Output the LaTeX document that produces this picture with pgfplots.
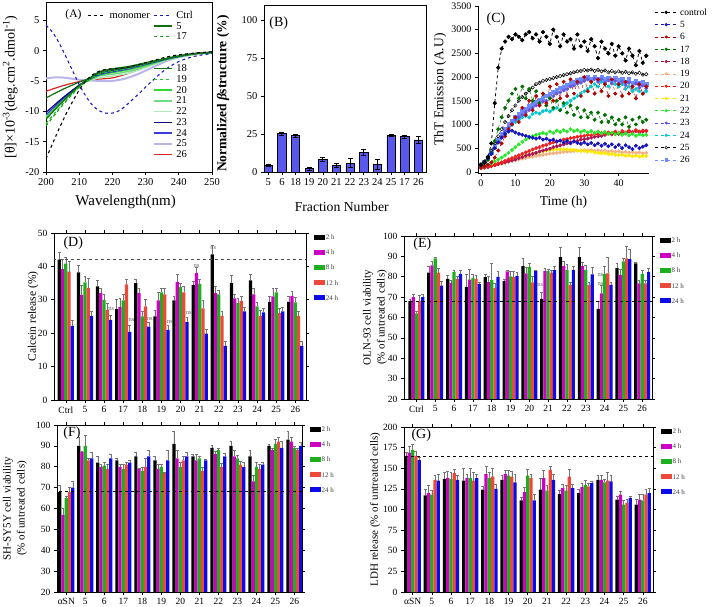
\documentclass[border=0pt]{standalone}
\usepackage{fontspec}
\setmainfont{Liberation Serif}
\usepackage{pgfplots}
\usepackage{pgfplotstable}
\pgfplotsset{compat=1.18}

\definecolor{bbar}{RGB}{88,88,238}
\definecolor{cctrl}{RGB}{30,30,190}
\definecolor{g5}{RGB}{20,110,20}
\definecolor{g17}{RGB}{30,160,30}
\definecolor{g18}{RGB}{10,120,10}
\definecolor{g19}{RGB}{40,200,40}
\definecolor{g20}{RGB}{50,215,50}
\definecolor{g21}{RGB}{110,220,130}
\definecolor{g22}{RGB}{170,235,185}
\definecolor{b23}{RGB}{10,10,130}
\definecolor{b24}{RGB}{60,60,220}
\definecolor{l25}{RGB}{185,180,235}
\definecolor{r26}{RGB}{220,35,35}
% panel C colours
\definecolor{k5}{RGB}{20,20,190}
\definecolor{k6}{RGB}{180,0,0}
\definecolor{k17}{RGB}{0,110,0}
\definecolor{k18}{RGB}{170,20,90}
\definecolor{k19}{RGB}{245,175,130}
\definecolor{k20}{RGB}{240,30,30}
\definecolor{k21}{RGB}{255,230,0}
\definecolor{k22}{RGB}{40,230,40}
\definecolor{k23}{RGB}{100,90,220}
\definecolor{k24}{RGB}{0,200,210}
\definecolor{k26}{RGB}{110,140,255}
% bar colours
\definecolor{h2c}{RGB}{0,0,0}
\definecolor{h4c}{RGB}{205,0,195}
\definecolor{h8c}{RGB}{30,175,30}
\definecolor{h12c}{RGB}{238,72,58}
\definecolor{h24c}{RGB}{10,10,235}

\pgfplotstableread{
x y e
0 4.5 0.7
1 25.3 1.0
2 24.0 1.0
3 2.2 1.0
4 8.2 1.2
5 4.2 1.3
6 5.7 3.0
7 12.8 1.8
8 5.0 3.2
9 24.2 0.6
10 23.2 1.2
11 21.2 2.5
}\tabB

\pgfplotstableread{
t ctl s5 s6 s17 s18 s19 s20 s21 s22 s23 s24 s25 s26
0 150 150 100 150 80 80 80 80 100 150 150 150 150
1 200 200 120 180 90 95 95 90 120 200 210 220 210
2 300 280 150 250 100 110 110 105 150 280 290 320 300
3 600 380 200 400 120 125 130 120 180 380 400 450 410
4 1450 500 300 650 140 140 150 140 220 500 530 600 540
5 2200 620 450 900 160 160 180 160 260 620 650 750 670
6 2600 720 600 1150 180 175 200 180 300 740 760 900 790
7 2750 800 750 1350 200 195 230 200 350 850 850 1050 900
8 2850 850 900 1500 220 210 260 225 400 940 920 1180 1000
9 2800 870 1000 1650 240 230 290 250 460 1020 990 1300 1080
10 2900 830 1150 1750 260 245 320 275 520 1100 1050 1400 1150
11 2850 800 1050 1550 290 260 350 300 580 1150 1100 1500 1220
12 2780 780 1350 1800 310 280 380 320 630 1200 1150 1580 1280
13 2900 760 1200 1550 340 290 410 345 680 1260 1180 1650 1330
14 2950 740 1500 1750 360 310 440 365 720 1300 1150 1720 1380
15 2820 720 1300 1500 380 320 470 385 750 1350 1220 1780 1430
16 2900 700 1600 1700 400 335 500 400 780 1400 1250 1850 1480
17 2750 720 1400 1450 430 345 520 420 800 1430 1230 1880 1520
18 2950 680 1650 1650 450 360 550 435 820 1480 1280 1920 1560
19 2850 700 1450 1400 470 370 570 450 800 1500 1300 1940 1600
20 2700 660 1800 1550 490 385 600 460 850 1560 1270 1960 1650
21 3000 680 1500 1350 520 390 620 470 820 1600 1320 1980 1690
22 2850 640 1850 1500 540 400 640 475 870 1650 1350 2000 1730
23 2650 660 1550 1300 560 410 660 480 840 1680 1300 2020 1770
24 2900 620 1900 1450 580 420 680 470 880 1720 1400 2040 1800
25 2750 650 1600 1250 600 425 690 475 850 1750 1450 2060 1840
26 2800 600 1950 1400 620 430 710 460 900 1800 1500 2080 1870
27 2600 640 1650 1200 640 440 720 465 860 1820 1550 2100 1900
28 2900 610 1900 1350 650 445 740 450 880 1860 1600 2120 1930
29 2650 590 1600 1150 680 450 750 440 840 1880 1650 2130 1950
30 2750 620 2000 1300 690 455 760 445 870 1920 1700 2150 1980
31 2550 580 1700 1150 700 450 780 425 830 1950 1750 2140 2000
32 2800 610 1900 1250 720 460 770 430 860 1900 1800 2160 1960
33 2650 560 1650 1100 740 445 800 410 820 1960 1850 2130 2010
34 2400 600 1950 1250 750 455 790 400 850 1900 1800 2150 1970
35 2750 550 1700 1050 760 440 820 390 810 1950 1900 2120 2000
36 2600 590 1850 1200 780 450 800 395 840 1880 1850 2140 1950
37 2500 540 1600 1050 800 430 830 370 800 1930 1800 2100 1990
38 2700 580 1950 1150 790 440 810 380 830 1860 1900 2130 1940
39 2450 520 1650 1000 820 420 850 360 790 1920 1850 2100 1980
40 2650 570 1850 1100 800 435 820 350 820 1850 1800 2120 1930
41 2500 500 1600 1000 830 410 860 360 780 1900 1850 2090 1960
42 2350 560 1900 1150 810 420 830 340 810 1830 1750 2110 1900
43 2600 520 1650 950 850 400 870 345 770 1880 1800 2080 1950
44 2450 480 1800 1100 820 415 840 330 800 1800 1700 2100 1880
45 2250 550 1550 1000 860 395 880 340 760 1860 1750 2070 1920
46 2550 500 1850 1150 830 410 850 320 790 1780 1700 2090 1870
47 2300 530 1650 1050 850 390 870 335 770 1820 1650 2050 1900
48 2450 560 1800 1100 870 400 860 330 780 1760 1700 2060 1850
}\tht

\pgfplotstableread{
x h2 e2 h4 e4 h8 e8 h12 e12 h24 e24
0 42.0 2.2 39.2 3.0 40.8 1.8 38.4 3.0 22.2 1.6
1 38.2 2.0 31.5 3.0 35.2 2.0 33.6 3.0 25.2 1.4
2 34.0 1.8 32.0 1.6 30.0 1.6 27.0 2.0 24.0 1.4
3 27.2 3.0 27.8 2.6 29.8 2.0 34.6 1.6 20.4 2.0
4 35.0 1.2 32.0 1.6 25.0 1.5 28.0 2.2 22.0 1.2
5 25.0 2.0 29.8 2.5 32.2 1.4 31.6 2.0 21.0 1.5
6 29.8 1.2 35.4 2.2 33.8 1.2 32.2 2.0 23.4 1.4
7 34.4 1.3 38.0 1.8 34.8 1.3 27.4 2.5 19.9 1.2
8 43.6 2.8 32.0 2.2 31.6 1.2 25.2 1.4 16.2 1.4
9 35.0 2.4 30.4 1.2 29.0 1.4 29.6 1.4 26.5 1.2
10 35.8 1.8 31.6 1.8 28.0 1.3 25.2 1.6 26.2 1.2
11 29.4 1.6 31.0 2.6 32.2 1.4 26.0 1.4 26.5 1.2
12 29.4 1.6 31.2 1.4 29.2 1.6 25.2 1.4 16.2 1.4
}\tabD

\pgfplotstableread{
x h2 e2 h4 e4 h8 e8 h12 e12 h24 e24
0 68.0 1.0 70.0 1.5 62.0 1.0 68.0 3.0 70.0 1.2
1 82.0 3.0 85.6 2.0 89.0 0.5 82.0 2.0 75.6 2.0
2 79.0 1.6 77.0 1.5 82.4 0.6 78.8 1.6 81.4 2.0
3 75.0 6.0 78.6 5.0 79.4 1.6 79.0 1.6 76.4 1.0
4 79.8 1.6 77.4 3.0 78.4 8.0 74.4 2.5 80.0 2.5
5 77.8 1.0 82.6 0.6 80.2 2.5 80.0 2.5 80.4 2.0
6 85.2 4.0 81.6 3.0 84.8 2.0 77.2 3.0 82.8 0.6
7 69.2 3.0 82.8 1.6 82.8 1.0 82.0 1.4 83.2 2.0
8 89.6 5.0 85.2 2.5 83.2 3.0 76.0 1.2 83.2 2.0
9 89.6 5.0 85.2 2.0 83.2 2.5 76.0 1.2 81.2 3.5
10 64.2 4.0 71.8 4.0 81.4 4.0 81.6 8.0 76.0 1.2
11 84.2 2.5 80.8 3.0 87.6 1.5 89.0 6.0 88.6 5.0
12 86.6 0.5 76.8 1.4 81.4 2.0 76.8 1.5 82.4 2.0
}\tabE

\pgfplotstableread{
x h2 e2 h4 e4 h8 e8 h12 e12 h24 e24
0 68 3 57 3 65 1 68 2 70 3
1 90 4 87 0.5 90 5 83 1 84 3
2 82 3 80 1 80.5 1.5 79 2 84 2
3 83 1 80 1 79 2 81 1 82 1
4 85 2 79 0.5 78 2 80 4 85 3
5 83 2 79 2 80 1 77 0.5 83 5
6 91 6 84 4 80 2 83 2 85 2
7 85 1 83 3 84 1 78 2 83 0.5
8 89 1.5 86 1.5 88 1 80 1.5 85 1.5
9 90 2 85 3 84 1.5 81 1.5 80 2
10 85 3 73 3 80 2 79 2 81 1
11 90 1 88 1 91 2 92 2 89 3
12 93 4 92 2 89 1 88 1 90 1.5
}\tabF

\pgfplotstableread{
x h2 e2 h4 e4 h8 e8 h12 e12 h24 e24
0 165 5 169 8 172 7 165 6 160 3
1 117 8 120 10 118 5 136 6 135 8
2 137 8 138 8 137 8 144 5 136 6
3 135 15 138 5 138 12 135 10 138 5
4 124 4 143 10 138 7 140 10 125 6
5 136 5 143 4 141 6 140 6 133 10
6 111 4 121 6 141 8 138 5 111 7
7 124 14 138 10 123 6 148 5 136 7
8 119 4 126 5 123 6 140 9 126 5
9 120 5 127 5 130 6 128 4 132 2
10 136 6 136 6 133 4 135 10 134 8
11 112 4 118 4 106 5 108 5 114 2
12 106 6 112 6 111 7 118 6 120 6
}\tabG

\pgfplotsset{
  every axis/.append style={
    scale only axis, anchor=south west,
    /pgf/number format/assume math mode=true,
    /pgf/number format/1000 sep={},
    scaled ticks=false,
    axis line style={line width=0.6pt},
    tick style={line width=0.6pt, black},
    major tick length=3pt,
  },
  sC/.style={dashed, line width=0.5pt, mark=*, mark size=1.7pt, mark options={solid}},
  barleg/.style={
    legend image code/.code={\fill[##1] (0pt,-2.6pt) rectangle (11pt,2.6pt);},
    legend style={draw=none, fill=none, at={(1.03,1.0)}, anchor=north west,
      font=\fontsize{7}{8}\selectfont, text=black!75, inner sep=0pt,
      nodes={inner sep=1pt, text height=5.5pt, text depth=1pt},
      row sep=6.6pt},
    legend cell align=left,
  },
  barax/.style={
    xmin=#1, xtick={0,...,12},
    tick align=outside,
    tick label style={font=\fontsize{9.5}{10}\selectfont},
    label style={font=\fontsize{11}{12.5}\selectfont},
    barleg,
  },
  eb/.style={error bars/.cd, y dir=plus, y explicit,
    error bar style={black!55, line width=0.5pt},
    error mark options={rotate=90, mark size=1.4pt, black!55, line width=0.5pt}},
}

\newcommand{\bars}[1]{%
  \addplot[ybar, bar width=0.17, fill=h2c, draw=none, eb] table[x expr=\thisrow{x}-0.34, y=h2, y error=e2]{#1};
  \addplot[ybar, bar width=0.17, fill=h4c, draw=none, eb] table[x expr=\thisrow{x}-0.17, y=h4, y error=e4]{#1};
  \addplot[ybar, bar width=0.17, fill=h8c, draw=none, eb] table[x=x, y=h8, y error=e8]{#1};
  \addplot[ybar, bar width=0.17, fill=h12c, draw=none, eb] table[x expr=\thisrow{x}+0.17, y=h12, y error=e12]{#1};
  \addplot[ybar, bar width=0.17, fill=h24c, draw=none, eb] table[x expr=\thisrow{x}+0.34, y=h24, y error=e24]{#1};
  \legend{2 h, 4 h, 8 h, 12 h, 24 h}%
}

\begin{document}
\begin{tikzpicture}[x=1pt,y=1pt]
\useasboundingbox (0pt,0pt) rectangle (713pt,606pt);

%%%%%%%%%%%%%%%% (A)
\begin{axis}[at={(46pt,434pt)}, width=166pt, height=170pt,
  xmin=200, xmax=250, ymin=-20, ymax=8,
  xtick={200,210,...,250}, ytick={-20,-15,...,5},
  tick pos=left, tick align=outside,
  tick label style={font=\fontsize{10.5}{12}\selectfont},
  xlabel={Wavelength(nm)},
  xlabel style={font=\fontsize{15}{16}\selectfont, at={(axis description cs:0.48,-0.175)}, anchor=center},
  ylabel={[θ]×10\textsuperscript{-3}(deg.cm\textsuperscript{2}.dmol\textsuperscript{-1})},
  ylabel style={font=\fontsize{14}{15}\selectfont, at={(axis description cs:-0.215,0.5)}, anchor=center},
  legend columns=2,
  legend image code/.code={\draw[#1] (0pt,0pt) -- (18pt,0pt);},
  legend style={draw=none, fill=none, at={(0.247,0.955)}, anchor=north west,
    font=\fontsize{10.5}{11}\selectfont, inner sep=0pt,
    nodes={inner sep=1.3pt, text height=7.2pt, text depth=0.9pt},
    row sep=0pt, column sep=2pt},
  legend cell align=left,
]
\addplot[forget plot, l25, line width=2pt, smooth] coordinates {(200,-4.6)(203,-4.4)(206,-4.5)(210,-4.8)(213,-4.9)(216,-5)(220,-5)(224,-4.6)(228,-3.8)(232,-2.8)(236,-1.8)(240,-1.1)(245,-0.6)(250,-0.3)};
\addplot[forget plot, r26, line width=1.2pt, smooth] coordinates {(200,-6.7)(205,-5.8)(210,-5.1)(213,-4.8)(216,-4.7)(220,-4.5)(224,-3.9)(228,-3.1)(232,-2.3)(236,-1.5)(240,-1)(245,-0.5)(250,-0.3)};
\addplot[forget plot, g22, line width=1.4pt, smooth] coordinates {(200,-10.8)(205,-8)(210,-5.7)(213,-5)(216,-4.5)(220,-4.2)(225,-3.7)(230,-2.8)(235,-1.8)(240,-1.1)(245,-0.6)(250,-0.3)};
\addplot[forget plot, g21, line width=1.4pt, smooth] coordinates {(200,-11)(205,-8.2)(210,-5.8)(213,-4.9)(216,-4.2)(220,-3.9)(225,-3.4)(230,-2.6)(235,-1.7)(240,-1)(245,-0.5)(250,-0.3)};
\addplot[forget plot, g20, line width=1.8pt, smooth] coordinates {(200,-11.2)(205,-8.3)(210,-5.8)(213,-4.8)(216,-4)(220,-3.6)(225,-3.1)(230,-2.4)(235,-1.6)(240,-1)(245,-0.5)(250,-0.3)};
\addplot[forget plot, b24, line width=1.2pt, smooth] coordinates {(200,-10.6)(205,-8)(210,-5.8)(213,-4.8)(216,-4)(220,-3.5)(225,-3)(230,-2.3)(235,-1.6)(240,-1)(245,-0.5)(250,-0.3)};
\addplot[forget plot, b23, line width=1.2pt, smooth] coordinates {(200,-10.2)(205,-7.8)(210,-5.7)(213,-4.7)(216,-3.8)(220,-3.3)(225,-2.8)(230,-2.2)(235,-1.5)(240,-0.9)(245,-0.5)(250,-0.3)};
\addplot[forget plot, g19, dashed, line width=1.2pt, smooth] coordinates {(200,-12)(205,-8.8)(210,-6)(213,-4.8)(216,-3.9)(220,-3.4)(225,-2.9)(230,-2.2)(235,-1.5)(240,-0.9)(245,-0.5)(250,-0.3)};
\addplot[forget plot, g18, line width=1.2pt, smooth] coordinates {(200,-11.3)(205,-8.4)(210,-5.8)(213,-4.6)(216,-3.5)(220,-3)(225,-2.6)(230,-2)(235,-1.4)(240,-0.9)(245,-0.5)(250,-0.3)};
\addplot[forget plot, g17, dashed, line width=1.2pt, smooth] coordinates {(200,-12.4)(205,-9)(210,-6)(213,-4.8)(216,-3.8)(220,-3.3)(225,-2.8)(230,-2.2)(235,-1.5)(240,-0.9)(245,-0.5)(250,-0.3)};
\addplot[forget plot, g5, line width=1.2pt, smooth] coordinates {(200,-7.8)(205,-6.4)(210,-5.2)(213,-4.6)(216,-3.6)(220,-3.1)(225,-2.7)(230,-2.1)(235,-1.5)(240,-0.9)(245,-0.5)(250,-0.3)};
\addplot[forget plot, black, dashed, line width=1.1pt, smooth] coordinates {(200,-17.8)(202,-15.3)(204,-12.8)(206,-10.5)(208,-8.4)(210,-6.5)(212,-5)(214,-4)(216,-3.4)(218,-3.1)(220,-3)(224,-2.8)(228,-2.3)(232,-1.7)(236,-1.1)(240,-0.7)(245,-0.4)(250,-0.2)};
\addplot[forget plot, cctrl, dashed, line width=1.1pt, smooth] coordinates {(200,4.2)(202,3)(204,1.2)(206,-1)(208,-3.3)(210,-5.6)(212,-7.5)(214,-9)(216,-9.9)(218,-10.3)(220,-10.3)(222,-9.9)(224,-9.1)(226,-8.1)(228,-7.1)(230,-6)(232,-5)(234,-4)(236,-3.1)(238,-2.4)(240,-1.8)(243,-1.2)(246,-0.8)(250,-0.5)};
\addlegendimage{black, dashed, line width=1.1pt}\addlegendentry{monomer}
\addlegendimage{cctrl, dashed, line width=1.1pt}\addlegendentry{Ctrl}
\addlegendimage{empty legend}\addlegendentry{}
\addlegendimage{g5, line width=1.2pt}\addlegendentry{5}
\addlegendimage{empty legend}\addlegendentry{}
\addlegendimage{g17, dashed, line width=1.2pt}\addlegendentry{17}
\addlegendimage{empty legend}\addlegendentry{}
\addlegendimage{empty legend}\addlegendentry{}
\addlegendimage{empty legend}\addlegendentry{}
\addlegendimage{empty legend}\addlegendentry{}
\addlegendimage{empty legend}\addlegendentry{}
\addlegendimage{g18, line width=1.2pt}\addlegendentry{18}
\addlegendimage{empty legend}\addlegendentry{}
\addlegendimage{g19, dashed, line width=1.2pt}\addlegendentry{19}
\addlegendimage{empty legend}\addlegendentry{}
\addlegendimage{g20, line width=1.8pt}\addlegendentry{20}
\addlegendimage{empty legend}\addlegendentry{}
\addlegendimage{g21, line width=1.4pt}\addlegendentry{21}
\addlegendimage{empty legend}\addlegendentry{}
\addlegendimage{g22, line width=1.4pt}\addlegendentry{22}
\addlegendimage{empty legend}\addlegendentry{}
\addlegendimage{b23, line width=1.2pt}\addlegendentry{23}
\addlegendimage{empty legend}\addlegendentry{}
\addlegendimage{b24, line width=1.2pt}\addlegendentry{24}
\addlegendimage{empty legend}\addlegendentry{}
\addlegendimage{l25, line width=2pt}\addlegendentry{25}
\addlegendimage{empty legend}\addlegendentry{}
\addlegendimage{r26, line width=1.2pt}\addlegendentry{26}
\node[anchor=west, font=\fontsize{11.5}{12}\selectfont] at (axis description cs:0.096,0.924) {(A)};
\end{axis}

%%%%%%%%%%%%%%%% (B)
\begin{axis}[at={(264pt,434pt)}, width=162pt, height=167pt,
  xmin=-0.31, xmax=11.56, ymin=0, ymax=110,
  xtick={0,...,11}, xticklabels={5,6,18,19,20,21,22,23,24,25,17,26},
  ytick={0,25,50,75,100},
  tick pos=left, tick align=outside,
  tick label style={font=\fontsize{10.5}{12}\selectfont},
  xlabel={Fraction Number},
  xlabel style={font=\fontsize{13.7}{15}\selectfont, at={(axis description cs:0.48,-0.21)}, anchor=center},
  ylabel={\textbf{Normalized \textit{β}structure (\%)}},
  ylabel style={font=\fontsize{13.5}{15}\selectfont, at={(axis description cs:-0.253,0.47)}, anchor=center},
]
\addplot[ybar, bar width=0.61, fill=bbar, draw=black, line width=0.6pt,
  error bars/.cd, y dir=both, y explicit, error bar style={black, line width=0.8pt},
  error mark options={rotate=90, mark size=2.5pt, black, line width=0.8pt}]
  table[x=x, y=y, y error=e]{\tabB};
\node[anchor=west, font=\fontsize{14}{15}\selectfont] at (axis description cs:0.012,0.892) {(B)};
\end{axis}

%%%%%%%%%%%%%%%% (C)
\begin{axis}[at={(478pt,433pt)}, width=171pt, height=167pt,
  xmin=-0.87, xmax=48.8, ymin=-25, ymax=3500,
  axis lines=left, axis line style={-},
  xtick={0,10,...,40}, ytick={0,500,...,3500},
  tick align=outside,
  tick label style={font=\fontsize{10}{12}\selectfont},
  xlabel={Time (h)},
  xlabel style={font=\fontsize{13.5}{15}\selectfont, at={(axis description cs:0.5,-0.174)}, anchor=center},
  ylabel={ThT Emission (A.U)},
  ylabel style={font=\fontsize{13.5}{15}\selectfont, at={(axis description cs:-0.222,0.5)}, anchor=center},
  legend image code/.code={\draw[mark repeat=2, mark phase=2, #1, mark size=1.3pt] plot coordinates {(0pt,0pt) (11.5pt,0pt) (23pt,0pt)};},
  legend style={draw=none, fill=none, at={(1.03,1.0)}, anchor=north west,
    font=\fontsize{9.5}{10}\selectfont, inner sep=0pt,
    nodes={inner sep=2pt, text height=7pt, text depth=1.3pt}, row sep=0pt},
  legend cell align=left,
]
\addplot[forget plot, sC, k19] table[x=t, y=s19]{\tht};
\addplot[forget plot, sC, k21] table[x=t, y=s21]{\tht};
\addplot[forget plot, sC, k18] table[x=t, y=s18]{\tht};
\addplot[forget plot, sC, k20] table[x=t, y=s20]{\tht};
\addplot[forget plot, sC, k22] table[x=t, y=s22]{\tht};
\addplot[forget plot, sC, k24] table[x=t, y=s24]{\tht};
\addplot[forget plot, sC, k26, mark=square*] table[x=t, y=s26]{\tht};
\addplot[forget plot, sC, k23] table[x=t, y=s23]{\tht};
\addplot[forget plot, sC, black, mark=o, mark options={solid, fill=white}] table[x=t, y=s25]{\tht};
\addplot[forget plot, sC, k17] table[x=t, y=s17]{\tht};
\addplot[forget plot, sC, k6] table[x=t, y=s6]{\tht};
\addplot[forget plot, sC, k5] table[x=t, y=s5]{\tht};
\addplot[forget plot, sC, black, line width=0.8pt] table[x=t, y=ctl]{\tht};
\addlegendimage{sC, black, line width=0.8pt}\addlegendentry{control}
\addlegendimage{sC, k5}\addlegendentry{5}
\addlegendimage{sC, k6}\addlegendentry{6}
\addlegendimage{sC, k17}\addlegendentry{17}
\addlegendimage{sC, k18}\addlegendentry{18}
\addlegendimage{sC, k19}\addlegendentry{19}
\addlegendimage{sC, k20}\addlegendentry{20}
\addlegendimage{sC, k21}\addlegendentry{21}
\addlegendimage{sC, k22}\addlegendentry{22}
\addlegendimage{sC, k23}\addlegendentry{23}
\addlegendimage{sC, k24}\addlegendentry{24}
\addlegendimage{sC, black, mark=o, mark options={solid, fill=white}}\addlegendentry{25}
\addlegendimage{sC, k26, mark=square*}\addlegendentry{26}
\node[anchor=west, font=\fontsize{14}{15}\selectfont] at (axis description cs:0.03,0.92) {(C)};
\end{axis}

%%%%%%%%%%%%%%%% (D)
\begin{axis}[at={(54pt,206pt)}, width=252pt, height=167pt,
  barax=-0.62, xmax=12.56, ymin=0, ymax=50, ytick={0,10,...,50},
  xticklabels={Ctrl,5,6,17,18,19,20,21,22,23,24,25,26},
  ylabel={Calcein release (\%)},
  ylabel style={font=\fontsize{11.5}{13}\selectfont, at={(axis description cs:-0.083,0.5)}, anchor=center},
]
\bars{\tabD}
\addplot[forget plot, sharp plot, black!70, dashed, line width=0.7pt] coordinates {(-1,42) (13,42)};
\node[anchor=west, font=\fontsize{14}{15}\selectfont] at (axis description cs:0.024,0.94) {(D)};
\begin{scope}[font=\fontsize{6.5}{7}\selectfont, text=black!60]
\node at (axis cs:2.38,27.3) {ns};
\node at (axis cs:3.43,24) {ns};
\node at (axis cs:4.39,24.2) {ns};
\node at (axis cs:5.44,23.5) {ns};
\node at (axis cs:6.43,26) {ns};
\node at (axis cs:6.84,40.2) {ns};
\node at (axis cs:7.71,45.5) {ns};
\end{scope}
\end{axis}

%%%%%%%%%%%%%%%% (E)
\begin{axis}[at={(404pt,207pt)}, width=248pt, height=163pt,
  barax=-0.66, xmax=12.52, ymin=20, ymax=100, ytick={20,30,...,100},
  xticklabels={Ctrl,5,6,17,18,19,20,21,22,23,24,25,26},
  ylabel={OLN-93 cell viability\\(\% of untreated cells)},
  ylabel style={font=\fontsize{11}{14}\selectfont, align=center, at={(axis description cs:-0.117,0.5)}, anchor=center},
]
\bars{\tabE}
\addplot[forget plot, sharp plot, black, dashed, line width=0.7pt] coordinates {(-1,68) (13,68)};
\node[anchor=west, font=\fontsize{14}{15}\selectfont] at (axis description cs:0.024,0.95) {(E)};
\begin{scope}[font=\fontsize{6.5}{7}\selectfont, text=black!60]
\node at (axis cs:6.58,75.9) {ns};
\node at (axis cs:9.78,81.1) {ns};
\node at (axis cs:9.78,76.2) {ns};
\end{scope}
\end{axis}

%%%%%%%%%%%%%%%% (F)
\begin{axis}[at={(57pt,14pt)}, width=245pt, height=167pt,
  barax=-0.49, xmax=12.4, ymin=20, ymax=100, ytick={20,30,...,100},
  xticklabels={αSN,5,6,17,18,19,20,21,22,23,24,25,26},
  ylabel={SH-SY5Y cell viability\\(\% of untreated cells)},
  ylabel style={font=\fontsize{11}{14}\selectfont, align=center, at={(axis description cs:-0.171,0.5)}, anchor=center},
]
\bars{\tabF}
\addplot[forget plot, sharp plot, black, dashed, line width=0.7pt] coordinates {(-1,68) (13,68)};
\node[anchor=west, font=\fontsize{14}{15}\selectfont] at (axis description cs:0.012,0.952) {(F)};
\end{axis}

%%%%%%%%%%%%%%%% (G)
\begin{axis}[at={(404pt,14pt)}, width=249pt, height=165pt,
  barax=-0.45, xmax=12.53, ymin=0, ymax=200, ytick={0,25,...,200},
  xticklabels={αSN,5,6,17,18,19,20,21,22,23,24,25,26},
  ylabel={LDH release (\% of untreated cells)},
  ylabel style={font=\fontsize{11}{13}\selectfont, at={(axis description cs:-0.116,0.5)}, anchor=center},
]
\bars{\tabG}
\addplot[forget plot, sharp plot, black, dashed, line width=0.7pt] coordinates {(-1,165) (13,165)};
\node[anchor=west, font=\fontsize{14}{15}\selectfont] at (axis description cs:0.016,0.95) {(G)};
\end{axis}

\end{tikzpicture}
\end{document}
